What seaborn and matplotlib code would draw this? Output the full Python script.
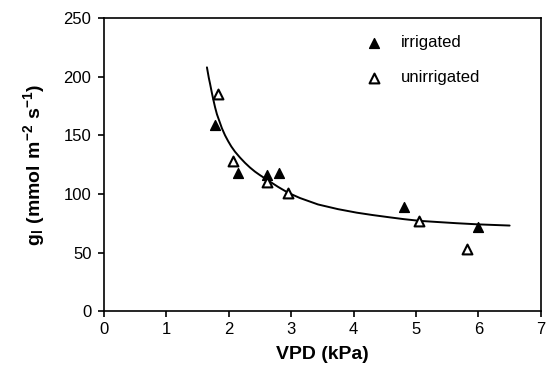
import matplotlib
matplotlib.use("Agg")
import numpy as np
import pandas as pd
import matplotlib.pyplot as plt
import seaborn as sns

irr_vpd = [1.78, 2.15, 2.62, 2.81, 4.80, 6.00]
irr_gl = [159, 118, 116, 118, 89, 72]
unirr_vpd = [1.82, 2.07, 2.61, 2.95, 5.05, 5.81]
unirr_gl = [185, 128, 110, 101, 77, 53]

# fitted curve, sampled along the drawn line
fit_vpd = [1.65, 1.68, 1.70, 1.73, 1.75, 1.78, 1.81, 1.85, 1.89, 1.94, 1.99,
           2.04, 2.10, 2.18, 2.26, 2.34, 2.42, 2.50, 2.63, 2.79, 2.95, 3.14,
           3.43, 3.75, 4.05, 4.30, 4.58, 4.80, 5.06, 5.35, 5.65, 6.00, 6.50]
fit_gl = [208, 199, 194, 186, 181, 174, 168, 162, 156, 150, 145,
          140.5, 136, 131, 126.5, 122.5, 119, 116, 111.5, 106, 101, 96.5,
          91, 87, 84, 82, 80, 78.5, 77, 76, 75, 74, 73]

xticks = [0, 1, 2, 3, 4, 5, 6, 7]
yticks = [0, 50, 100, 150, 200, 250]

sns.set_style("ticks")
plt.rcParams['font.family'] = ['Liberation Sans', 'DejaVu Sans']
plt.rcParams['mathtext.fontset'] = 'custom'
plt.rcParams['mathtext.rm'] = 'Liberation Sans'
plt.rcParams['mathtext.bf'] = 'Liberation Sans:bold'
plt.rcParams['text.color'] = 'black'
plt.rcParams['axes.labelcolor'] = 'black'

irr = pd.DataFrame({'vpd': irr_vpd, 'gl': irr_gl})
unirr = pd.DataFrame({'vpd': unirr_vpd, 'gl': unirr_gl})
fit = pd.DataFrame({'vpd': fit_vpd, 'gl': fit_gl})

fig = plt.figure(figsize=(5.53, 3.78), dpi=100)
ax = fig.add_axes([0.188, 0.177, 0.79, 0.775])

sns.lineplot(data=fit, x='vpd', y='gl', color='black', lw=1.4, ax=ax)
sns.scatterplot(data=irr, x='vpd', y='gl', marker='^', s=50, color='black',
                edgecolor='black', linewidth=1.0, label='irrigated', ax=ax, zorder=3)
sns.scatterplot(data=unirr, x='vpd', y='gl', marker='^', s=50, facecolor='white',
                edgecolor='black', linewidth=1.5, label='unirrigated', ax=ax, zorder=3)

ax.set_xlim(0, 7)
ax.set_ylim(0, 250)
ax.set_xticks(xticks)
ax.set_yticks(yticks)
ax.tick_params(direction='out', length=4, width=1.2, pad=4, labelsize=12, colors='black')
ax.tick_params(axis='y', pad=5)
for sp in ax.spines.values():
    sp.set_visible(True)
    sp.set_linewidth(1.2)
    sp.set_color('black')

ax.set_xlabel('VPD (kPa)', fontsize=14, fontweight='bold', labelpad=6)
ax.set_ylabel(r'$\mathbf{g_l\ (mmol\ m^{-2}\ s^{-1})}$', fontsize=14, labelpad=12)

ax.legend(loc='upper left', bbox_to_anchor=(0.565, 0.965), frameon=False,
          fontsize=12, labelspacing=1.2, handletextpad=0.6, borderaxespad=0)

fig.savefig('out.png', dpi=100)
